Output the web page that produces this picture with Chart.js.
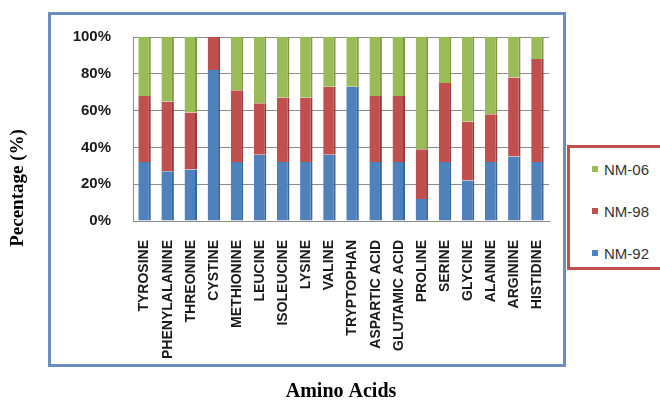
<!DOCTYPE html>
<html>
<head>
<meta charset="utf-8">
<script src="https://cdn.jsdelivr.net/npm/chart.js@4.4.1/dist/chart.umd.min.js"></script>
<style>
  html, body { margin: 0; padding: 0; background: #fff; }
  #wrap { position: relative; width: 660px; height: 402px; overflow: hidden; background: #fff; }
  #chart { position: absolute; left: 0; top: 0; }
  #frame { position: absolute; left: 48px; top: 12px; width: 512px; height: 349px; border: 3px solid #6a8fbf; pointer-events: none; }
  #legend { position: absolute; left: 567px; top: 145px; width: 120px; height: 119px; border: 3px solid #c0504d; background: #fff; margin: 0; padding: 0; list-style: none; }
  #legend li { height: 42px; display: flex; align-items: center; padding-left: 22px; font: 15px "Liberation Sans", Arial, sans-serif; color: #333; }
  #legend li span.box { display: inline-block; width: 6px; height: 6px; margin-right: 6px; }
</style>
</head>
<body>
<div id="wrap">
  <canvas id="chart" width="660" height="402"></canvas>
  <div id="frame"></div>
  <ul id="legend"></ul>
</div>
<script>
const categories = ['TYROSINE','PHENYLALANINE','THREONINE','CYSTINE','METHIONINE','LEUCINE','ISOLEUCINE','LYSINE','VALINE','TRYPTOPHAN','ASPARTIC ACID','GLUTAMIC ACID','PROLINE','SERINE','GLYCINE','ALANINE','ARGININE','HISTIDINE'];
const nm92 = [32, 27, 28, 82, 32, 36, 32, 32, 36, 73, 32, 32, 12, 32, 22, 32, 35, 32];
const nm98 = [36, 38, 31, 18, 39, 28, 35, 35, 37,  0, 36, 36, 27, 43, 32, 26, 43, 56];
const nm06 = [32, 35, 41,  0, 29, 36, 33, 33, 27, 27, 32, 32, 61, 25, 46, 42, 22, 12];
const yTicks = [0, 20, 40, 60, 80, 100];
const seriesNames = ['NM-92', 'NM-98', 'NM-06'];
const seriesColors = ['#4f81bd', '#c0504d', '#9bbb59'];
const seriesEdges = ['#3a659a', '#9a3a38', '#7d9a44'];

const yTitlePlugin = {
  id: 'yTitle',
  afterDraw(chart) {
    const c = chart.ctx;
    c.save();
    c.translate(18, 188);
    c.rotate(-Math.PI / 2);
    c.font = 'bold 19px "Liberation Serif"';
    c.fillStyle = '#000';
    c.textAlign = 'center';
    c.textBaseline = 'middle';
    c.fillText('Pecentage (%)', 0, 0);
    c.restore();
  }
};

const edge = { left: 0, right: 2, top: 0, bottom: 0 };

const chart = new Chart(document.getElementById('chart'), {
  type: 'bar',
  data: {
    labels: categories,
    datasets: seriesNames.map((name, i) => ({
      label: name,
      data: [nm92, nm98, nm06][i],
      backgroundColor: seriesColors[i],
      borderColor: seriesEdges[i],
      borderWidth: edge,
      borderSkipped: false
    }))
  },
  options: {
    responsive: false,
    animation: false,
    devicePixelRatio: 1,
    datasets: { bar: { categoryPercentage: 1, barPercentage: 0.54 } },
    layout: { padding: { top: 37, right: 111, left: 0, bottom: 0 } },
    plugins: { legend: { display: false }, tooltip: { enabled: false } },
    scales: {
      x: {
        stacked: true,
        grid: { display: false, drawTicks: false },
        border: { color: '#8c8c8c' },
        ticks: {
          autoSkip: false, minRotation: 90, maxRotation: 90, padding: 19,
          font: { family: 'Liberation Sans', weight: 'bold', size: 14 }, color: '#1a1a1a'
        },
        title: {
          display: true, text: 'Amino Acids', color: '#000',
          font: { family: 'Liberation Serif', weight: 'bold', size: 20, lineHeight: 1 },
          padding: { top: 0, bottom: 0 }
        },
        afterFit(s) { s.height = 402 - 221; }
      },
      y: {
        stacked: true, min: 0, max: 100,
        afterBuildTicks(s) { s.ticks = yTicks.map(v => ({ value: v })); },
        ticks: {
          callback: v => v + '%', padding: 22,
          font: { family: 'Liberation Sans', weight: 'bold', size: 15 }, color: '#1a1a1a'
        },
        grid: { color: '#8c8c8c', drawTicks: false },
        border: { color: '#8c8c8c' },
        afterFit(s) { s.width = 133; }
      }
    }
  },
  plugins: [yTitlePlugin]
});

// legend built from the chart's datasets, in reverse order (as in the reference)
const legendEl = document.getElementById('legend');
chart.data.datasets.slice().reverse().forEach(ds => {
  const li = document.createElement('li');
  const box = document.createElement('span');
  box.className = 'box';
  box.style.background = ds.backgroundColor;
  li.appendChild(box);
  li.appendChild(document.createTextNode(ds.label));
  legendEl.appendChild(li);
});
</script>
</body>
</html>
